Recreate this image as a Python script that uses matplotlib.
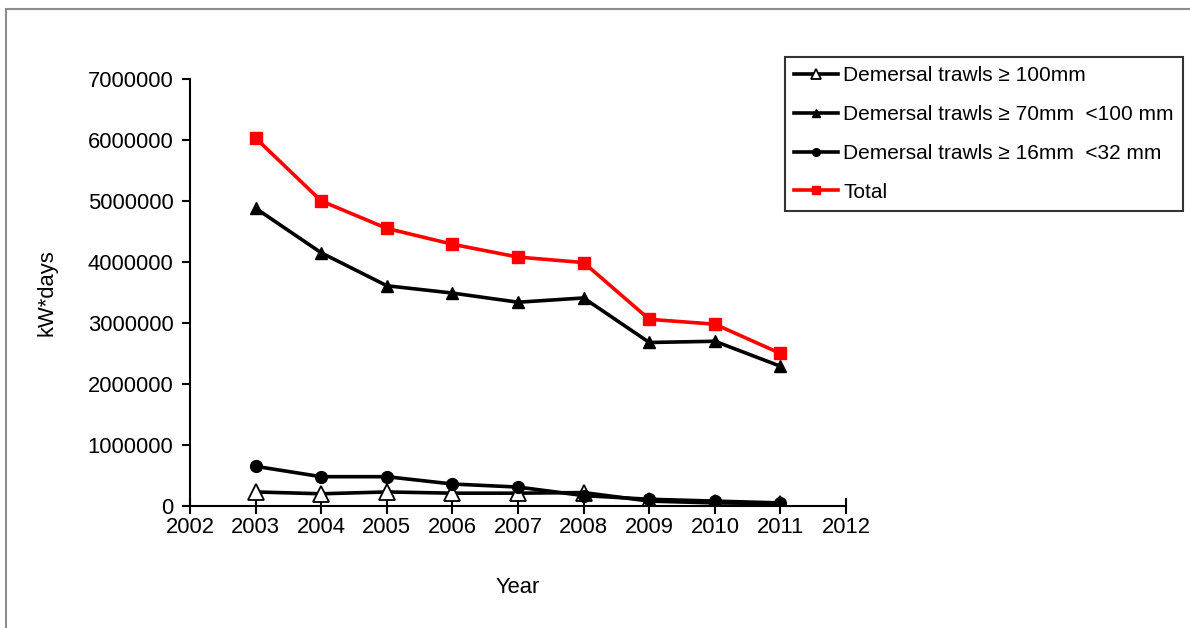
import matplotlib
matplotlib.use("Agg")
import matplotlib.pyplot as plt
from matplotlib.patches import Rectangle

plt.rcParams["font.family"] = ["Liberation Sans", "DejaVu Sans"]

years = [2003, 2004, 2005, 2006, 2007, 2008, 2009, 2010, 2011]

trawls_100 = [230000, 200000, 230000, 210000, 210000, 220000, 80000, 50000, 40000]
trawls_70_100 = [4880000, 4150000, 3610000, 3490000, 3340000, 3410000, 2680000, 2700000, 2290000]
trawls_16_32 = [650000, 480000, 480000, 360000, 310000, 170000, 110000, 80000, 50000]
total = [6030000, 5000000, 4550000, 4290000, 4080000, 3990000, 3060000, 2980000, 2500000]

labels = [
    "Demersal trawls \u2265 100mm",
    "Demersal trawls \u2265 70mm  <100 mm",
    "Demersal trawls \u2265 16mm  <32 mm",
    "Total",
]

FS = 15.8
LEG_FS = 15.0

fig = plt.figure(figsize=(11.9, 6.28), dpi=100)
ax = fig.add_axes([0.1597, 0.1943, 0.5513, 0.680])

# grey frame round the chart area
fig.patches.append(Rectangle((6 / 1190, -0.1), 1.2, 1 - 9 / 628 + 0.1,
                             transform=fig.transFigure, fill=False,
                             edgecolor="#8c8c8c", linewidth=1.5))

ax.plot(years, trawls_100, color="black", linewidth=2.6, marker="^",
        markersize=11.5, markerfacecolor="white", markeredgecolor="black",
        markeredgewidth=1.3, label=labels[0])
ax.plot(years, trawls_70_100, color="black", linewidth=2.6, marker="^",
        markersize=8.5, label=labels[1])
ax.plot(years, trawls_16_32, color="black", linewidth=2.6, marker="o",
        markersize=8.5, label=labels[2])
ax.plot(years, total, color="#ff0000", linewidth=2.6, marker="s",
        markersize=8.5, label=labels[3])

ax.set_xlim(2002, 2012)
ax.set_ylim(0, 7000000)
ax.set_xticks(range(2002, 2013))
ax.set_yticks(range(0, 7000001, 1000000))
ax.set_yticklabels([str(v) for v in range(0, 7000001, 1000000)])

for side in ("top", "right"):
    ax.spines[side].set_visible(False)
for side in ("left", "bottom"):
    ax.spines[side].set_linewidth(1.5)
ax.tick_params(axis="y", direction="out", length=6, width=1.5,
               labelsize=FS, pad=6)
ax.tick_params(axis="x", direction="inout", length=12, width=1.5,
               labelsize=FS, pad=2)

ax.set_xlabel("Year", fontsize=FS, labelpad=28)
ax.set_ylabel("kW*days", fontsize=FS, labelpad=22)

leg = fig.legend(loc="upper left", bbox_to_anchor=(785 / 1190, 1 - 57 / 628),
                 fontsize=LEG_FS, frameon=True, fancybox=False, edgecolor="black",
                 handlelength=2.1, markerscale=0.65, borderpad=0.45,
                 labelspacing=0.95, handletextpad=0.25, borderaxespad=0)
leg.get_frame().set_linewidth(1.5)

fig.savefig("out.png", dpi=100)
